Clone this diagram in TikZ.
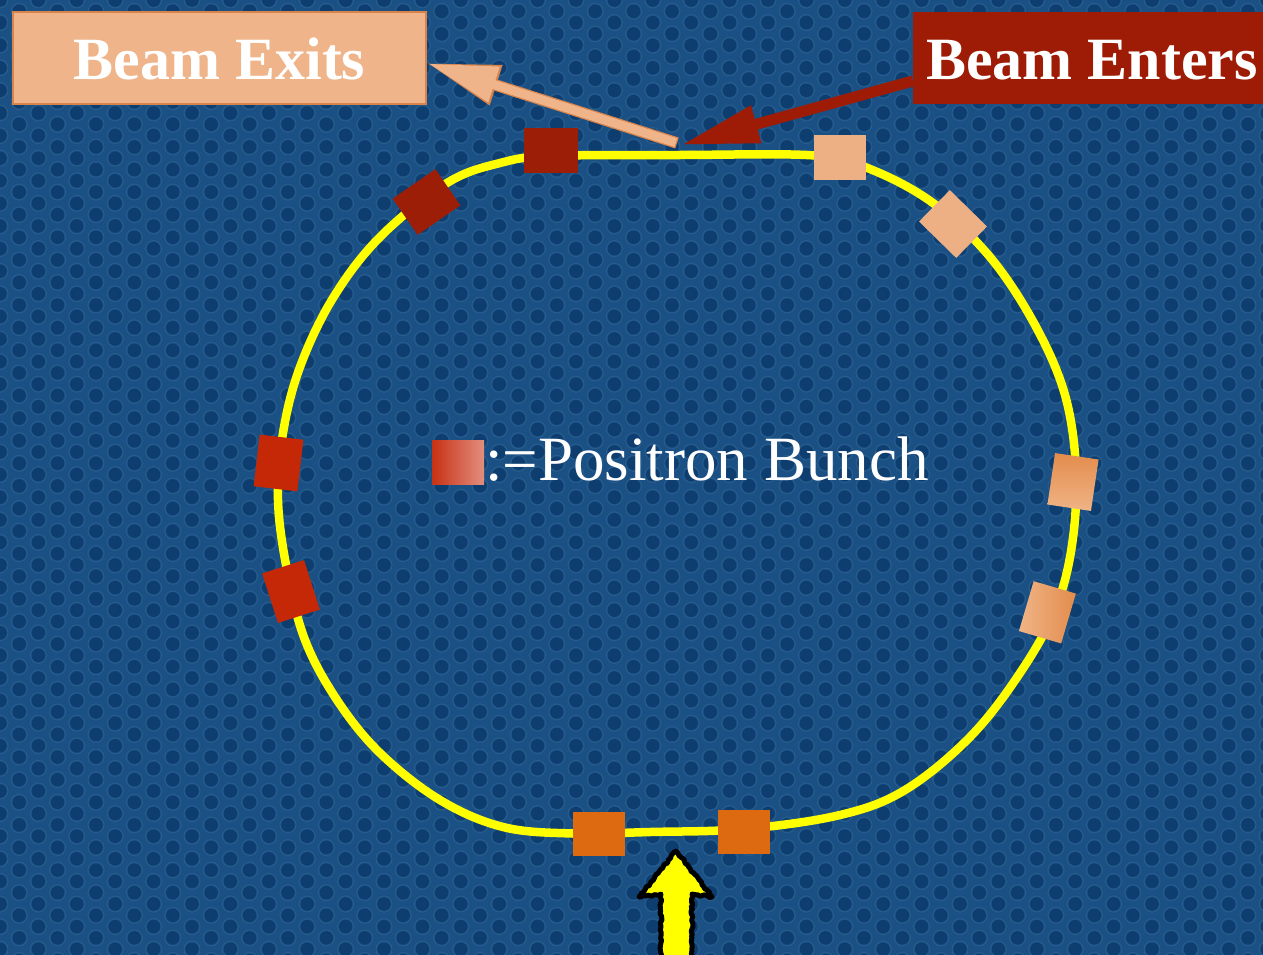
\documentclass[tikz,border=0pt]{standalone}
\usepackage{fontspec}
\setmainfont{Liberation Serif}
\usetikzlibrary{arrows.meta,decorations.pathmorphing,calc}
\definecolor{bgc}{HTML}{1B5084}
\definecolor{dotc}{HTML}{0E3E6F}
\definecolor{dotring}{HTML}{28608F}
\definecolor{ringyel}{HTML}{FFFF00}
\definecolor{exitfill}{HTML}{EFB48A}
\definecolor{exitedge}{HTML}{D7834A}
\definecolor{enterc}{HTML}{9E1C05}
\definecolor{darkredsq}{HTML}{9C1E07}
\definecolor{redsq}{HTML}{C42807}
\definecolor{orangesq}{HTML}{DD6A10}
\definecolor{peachsq}{HTML}{EDB085}
\definecolor{peachdark}{HTML}{E38C4D}
\definecolor{peachlight}{HTML}{F0B486}
\definecolor{legl}{HTML}{C73114}
\definecolor{legr}{HTML}{E38E7E}
\tikzset{
  bunch/.style={rectangle, minimum width=52pt, minimum height=44pt, inner sep=0pt, outer sep=0pt},
  labelbox/.style={rectangle, minimum height=92pt, inner sep=0pt, text=white,
    text height=44pt, text depth=0pt, font=\bfseries\fontsize{60}{66}\selectfont},
  ringline/.style={draw=ringyel, line width=8.5pt}
}
\begin{document}
\begin{tikzpicture}[x=1pt,y=-1pt]
\useasboundingbox (0,0) rectangle (1263,955);
\fill[bgc] (0,0) rectangle (1263,955);
% background texture
\foreach \i in {0,...,66} {
  \fill[dotring] foreach \j in {-1,...,43} { ({\i*19.2},{\j*22.6+mod(\i,2)*11.3}) circle (8.4pt) };
  \fill[bgc!80!dotring] foreach \j in {-1,...,43} { ({\i*19.2},{\j*22.6+mod(\i,2)*11.3}) circle (7.6pt) };
  \fill[dotc] foreach \j in {-1,...,43} { ({\i*19.2},{\j*22.6+mod(\i,2)*11.3}) circle (6.8pt) };
}
% storage ring
\draw[ringline] plot[smooth cycle, tension=0.6] coordinates {
 (551,156) (680,155) (815,155.5) (870,169) (933,203) (990,257) (1035,325) (1065,395)
 (1076,470) (1072,545) (1055,610) (1020,673) (970,737) (905,790) (840,815) (744,829)
 (650,832) (573,833.5) (503,827) (440,800) (380,753) (337,700) (305,640) (287,570)
 (278,500) (283,433) (300,367) (333,298) (380,237) (447,183) (500,163)};
% bunches
\node[bunch, fill=darkredsq, minimum width=54pt, minimum height=45pt] (b1) at (551,150.5) {};
\node[bunch, fill=darkredsq, rotate=34.6] (b2) at (426.5,202) {};
\node[bunch, fill=redsq, rotate=83.3] (b3) at (278.5,463) {};
\node[bunch, fill=redsq, rotate=107.7] (b4) at (291,591.5) {};
\node[bunch, fill=orangesq] (b5) at (599,834) {};
\node[bunch, fill=orangesq] (b6) at (744,831.5) {};
\node[bunch, top color=peachdark, bottom color=peachlight, rotate=81.6] (b7) at (1073,482) {};
\node[bunch, left color=peachlight, right color=peachdark, rotate=73.6] (b8) at (1047.4,612.3) {};
\node[bunch, fill=peachsq, rotate=-44.4] (b9) at (953,224) {};
\node[bunch, fill=peachsq] (b10) at (840,157.5) {};
% legend
\node[bunch, left color=legl, right color=legr] (legsq) at (458,462) {};
\node[anchor=base west, inner sep=0pt, text=white, font=\fontsize{63}{70}\selectfont] (legtxt) at (485,480) {:=Positron Bunch};
% label boxes
\node[labelbox, draw=exitedge, line width=1.2pt, fill=exitfill, minimum width=413pt] (exitbox) at (219.5,58) {Beam Exits};
\node[labelbox, fill=enterc, minimum width=358pt] (enterbox) at (1092,58) {Beam Enters};
% arrows
\coordinate (exitstart) at (677,143);
\coordinate (entertip) at (681,145);
\draw[line width=11.5pt, exitedge, -{Triangle[length=73pt,width=39pt]}] (exitstart) -- ([yshift=-5pt]exitbox.east);
\draw[line width=9pt, exitfill, -{Triangle[length=69pt,width=35pt]}, shorten >=1.8pt, shorten <=1.2pt] (exitstart) -- ([yshift=-5pt]exitbox.east);
\draw[line width=11pt, enterc, -{Triangle[length=78pt,width=36pt]}] ([yshift=-23pt]enterbox.west) -- (entertip);
% injection arrow
\pgfmathsetseed{7}
\draw[black, line width=5pt, line join=round, fill=ringyel, decorate,
  decoration={random steps, segment length=2.5pt, amplitude=1pt}]
  (676,851) -- (712,897) -- (692,894) -- (692,968) -- (661,968) -- (661,894) -- (639,897) -- cycle;
\end{tikzpicture}
\end{document}
